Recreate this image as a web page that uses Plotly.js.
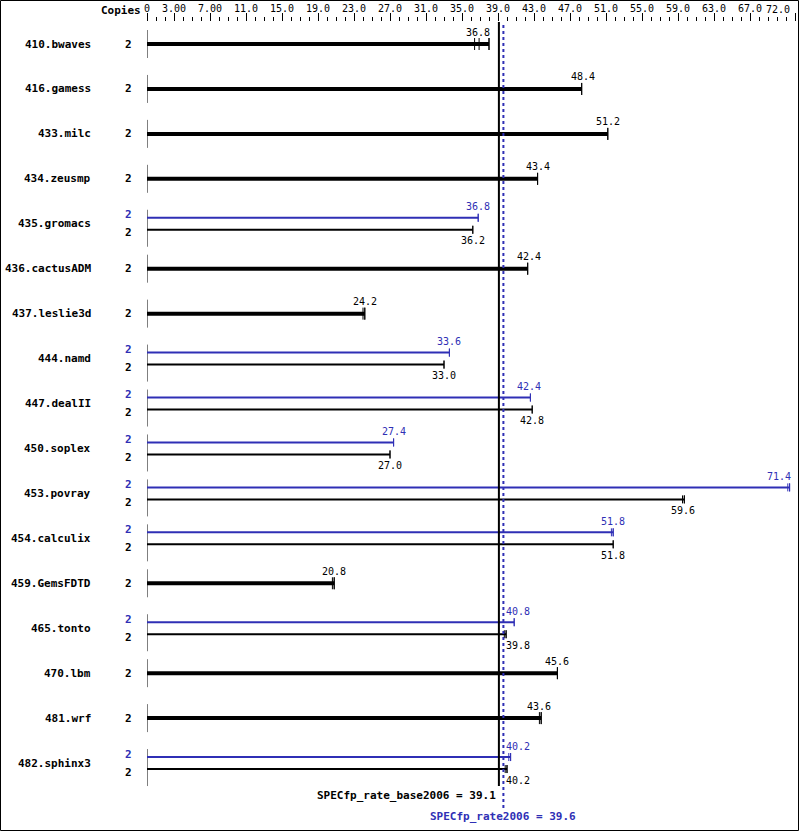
<!DOCTYPE html>
<html><head><meta charset="utf-8">
<script src="https://cdn.plot.ly/plotly-3.0.1.min.js"></script>
<style>html,body{margin:0;padding:0;background:#fff}#chart{width:799px;height:831px}</style>
</head><body><div id="chart"></div>
<script>
const benchmarks = ["410.bwaves","416.gamess","433.milc","434.zeusmp","435.gromacs","436.cactusADM","437.leslie3d","444.namd","447.dealII","450.soplex","453.povray","454.calculix","459.GemsFDTD","465.tonto","470.lbm","481.wrf","482.sphinx3"];
const baseCopies = [2,2,2,2,2,2,2,2,2,2,2,2,2,2,2,2,2];
const peakCopies = [null,null,null,null,2,null,null,2,2,2,2,2,null,2,null,null,2];
const baseScore = [36.8,48.4,51.2,43.4,36.2,42.4,24.2,33.0,42.8,27.0,59.6,51.8,20.8,39.8,45.6,43.6,40.2];
const peakScore = [null,null,null,null,36.8,null,null,33.6,42.4,27.4,71.4,51.8,null,40.8,null,null,40.2];
const baseRuns = [[36.4,36.9,38.0],[48.3],[51.2],[43.4],[36.2],[42.3],[24.0,24.2],[33.0],[42.8],[27.0],[59.5,59.7],[51.8],[20.6,20.8],[39.7,39.9],[45.6],[43.6,43.8],[39.8,40.0]];
const peakRuns = [null,null,null,null,[36.8],null,null,[33.6],[42.6],[27.4],[71.2,71.4],[51.6,51.8],null,[40.8],null,null,[40.2,40.4]];
const tickValues = [0,3,7,11,15,19,23,27,31,35,39,43,47,51,55,59,63,67,72];
const tickLabels = ["0","3.00","7.00","11.0","15.0","19.0","23.0","27.0","31.0","35.0","39.0","43.0","47.0","51.0","55.0","59.0","63.0","67.0","72.0"];
const baseMetricName = "SPECfp_rate_base2006";
const peakMetricName = "SPECfp_rate2006";
const baseOverall = 39.1;
const peakOverall = 39.6;

const BLUE = "#2f2fb5";
const FONT = "DejaVu Sans Mono";
const W = 799, H = 831, L = 147, R = 4, T = 22, B = 0;
const pw = W - L - R, ph = H - T - B;
const rowPx = 44.94;
const yMin = -(44 - T) / rowPx;
const yMax = yMin + ph / rowPx;
const px = p => p / rowPx; // pixel offset -> y units
const paperX = p => (p - L) / pw;
const paperY = p => 1 - (p - T) / ph;
const xMax = 72;

const traces = [];
const annotations = [];
const shapes = [];

function seg(xs, ys, color, width) {
  traces.push({type: "scatter", mode: "lines", x: xs, y: ys, line: {color: color, width: width},
    hoverinfo: "skip", showlegend: false, cliponaxis: false});
}
function capsFor(runs, yc, half) {
  const xs = [], ys = [];
  runs.forEach(v => { xs.push(v, v, null); ys.push(yc - half, yc + half, null); });
  return [xs, ys];
}
function nearLines(v) { return v > 38.3 && v < 41.6; }
function valueLabel(v, i, shift, color) {
  let x = v, anchor = "center", xs = 0;
  if (nearLines(v)) { x = peakOverall + 0.1; anchor = "left"; }
  else if (v > xMax - 1.6) { anchor = "right"; xs = 3; }
  annotations.push({xref: "x", yref: "y", x: x, xshift: xs, y: i, yshift: shift, xanchor: anchor, yanchor: "middle",
    text: v.toFixed(1), showarrow: false, font: {family: FONT, size: 10, color: color}});
}

// y-axis segments
const axX = [], axY = [];
benchmarks.forEach((b, i) => {
  const dual = peakScore[i] !== null;
  axX.push(0, 0, null);
  axY.push(i - px(14), i + px(dual ? 23 : 14), null);
});
seg(axX, axY, "#000", 1);

benchmarks.forEach((b, i) => {
  annotations.push({xref: "paper", yref: "y", x: paperX(93), y: i, xanchor: "right", yanchor: "middle",
    text: "<b>" + b + "</b>", showarrow: false, font: {family: FONT, size: 11, color: "#000"}});
  if (peakScore[i] === null) {
    const end = Math.max(...baseRuns[i]);
    seg([0, end], [i, i], "#000", 4);
    const c = capsFor(baseRuns[i].concat([end]), i, px(6));
    seg(c[0], c[1], "#000", 1);
    valueLabel(baseScore[i], i, 12, "#000");
    annotations.push({xref: "paper", yref: "y", x: paperX(134), y: i, xanchor: "right", yanchor: "middle",
      text: "<b>" + baseCopies[i] + "</b>", showarrow: false, font: {family: FONT, size: 11, color: "#000"}});
  } else {
    const yp = i - px(6), yb = i + px(6);
    const pe = Math.max(...peakRuns[i]);
    const be = Math.max(...baseRuns[i]);
    seg([0, pe], [yp, yp], BLUE, 2);
    let c = capsFor(peakRuns[i].concat([pe]), yp, px(4));
    seg(c[0], c[1], BLUE, 1);
    seg([0, be], [yb, yb], "#000", 2);
    c = capsFor(baseRuns[i].concat([be]), yb, px(4));
    seg(c[0], c[1], "#000", 1);
    valueLabel(peakScore[i], i, 17, BLUE);
    valueLabel(baseScore[i], i, -17, "#000");
    annotations.push({xref: "paper", yref: "y", x: paperX(134), y: i, yshift: 9, xanchor: "right", yanchor: "middle",
      text: "<b>" + peakCopies[i] + "</b>", showarrow: false, font: {family: FONT, size: 11, color: BLUE}});
    annotations.push({xref: "paper", yref: "y", x: paperX(134), y: i, yshift: -9, xanchor: "right", yanchor: "middle",
      text: "<b>" + baseCopies[i] + "</b>", showarrow: false, font: {family: FONT, size: 11, color: "#000"}});
  }
});

// reference lines
shapes.push({type: "line", xref: "x", yref: "paper", x0: baseOverall, x1: baseOverall, y0: paperY(786), y1: 1,
  line: {color: "#000", width: 2}});
shapes.push({type: "line", xref: "x", yref: "paper", x0: peakOverall, x1: peakOverall, y0: paperY(808), y1: 1,
  line: {color: BLUE, width: 2, dash: "dot"}});
// frame
shapes.push({type: "rect", xref: "paper", yref: "paper", x0: paperX(0.5), x1: paperX(798.5), y0: paperY(830.5), y1: paperY(0.5),
  line: {color: "#000", width: 1}, fillcolor: "rgba(0,0,0,0)"});

annotations.push({xref: "x", yref: "paper", x: baseOverall, xshift: -1, y: paperY(795), xanchor: "right", yanchor: "middle",
  text: "<b>" + baseMetricName + " = " + baseOverall.toFixed(1) + "</b>", showarrow: false, font: {family: FONT, size: 11, color: "#000"}});
annotations.push({xref: "x", yref: "paper", x: peakOverall, y: paperY(816), xanchor: "center", yanchor: "middle",
  text: "<b>" + peakMetricName + " = " + peakOverall.toFixed(1) + "</b>", showarrow: false, font: {family: FONT, size: 11, color: BLUE}});
annotations.push({xref: "paper", yref: "paper", x: paperX(143), y: paperY(10), xanchor: "right", yanchor: "middle",
  text: "<b>Copies</b>", showarrow: false, font: {family: FONT, size: 11, color: "#000"}});
// last tick label kept inside the frame
annotations.push({xref: "x", yref: "paper", x: tickValues[tickValues.length - 1], xshift: -3, y: paperY(9), xanchor: "right", yanchor: "middle",
  text: tickLabels[tickLabels.length - 1], showarrow: false, font: {family: FONT, size: 10, color: "#000"}});
const axisText = tickLabels.map((t, k) => k === tickLabels.length - 1 ? "" : t);

const layout = {
  width: W, height: H, margin: {l: L, r: R, t: T, b: B, pad: 0},
  paper_bgcolor: "#fff", plot_bgcolor: "#fff", showlegend: false,
  xaxis: {range: [0, xMax], side: "top", tickmode: "array", tickvals: tickValues, ticktext: axisText,
    ticks: "outside", ticklen: 8, tickwidth: 1, tickcolor: "#000", showgrid: false, zeroline: false, showline: false,
    ticklabelstandoff: -3,
    tickfont: {family: FONT, size: 10, color: "#000"},
    minor: {tickmode: "linear", tick0: 0, dtick: 1, ticks: "outside", ticklen: 4, tickwidth: 1, tickcolor: "#000", showgrid: false}},
  yaxis: {range: [yMax, yMin], showticklabels: false, ticks: "", showgrid: false, zeroline: false, showline: false},
  shapes: shapes, annotations: annotations
};
Plotly.newPlot("chart", traces, layout, {staticPlot: true, displayModeBar: false});
</script></body></html>
